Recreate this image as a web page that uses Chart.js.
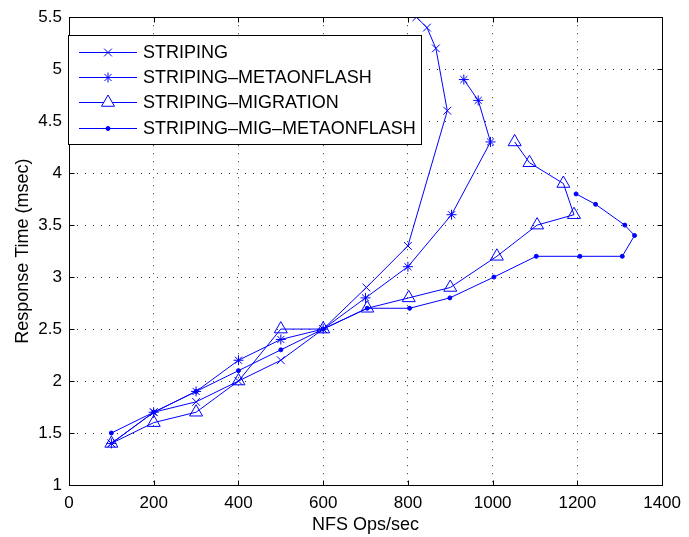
<!DOCTYPE html>
<html>
<head>
<meta charset="utf-8">
<script src="https://cdn.jsdelivr.net/npm/chart.js@4.4.1/dist/chart.umd.min.js"></script>
<style>
  body { margin: 0; background: #fff; }
  #wrap { width: 689px; height: 537px; }
</style>
</head>
<body>
<div id="wrap"><canvas id="chart" width="689" height="537"></canvas></div>
<script>
// tick values
const xTicks = [0, 200, 400, 600, 800, 1000, 1200, 1400];
const yTicks = [1, 1.5, 2, 2.5, 3, 3.5, 4, 4.5, 5, 5.5];

// series (NFS ops/sec vs response time in msec)
const stripingX = [100, 200, 300, 400, 500, 600, 702, 800, 893, 866, 845, 820];
const stripingY = [1.4, 1.7, 1.8, 2.0, 2.2, 2.5, 2.9, 3.3, 4.6, 5.2, 5.4, 5.5];

const metaX = [100, 200, 300, 400, 500, 600, 700, 800, 903, 995, 966, 932];
const metaY = [1.4, 1.7, 1.9, 2.2, 2.4, 2.5, 2.8, 3.1, 3.6, 4.3, 4.7, 4.9];

const migX = [100, 200, 300, 400, 500, 600, 704, 802, 900, 1010, 1105, 1192, 1167, 1087, 1052];
const migY = [1.4, 1.6, 1.7, 2.0, 2.5, 2.5, 2.7, 2.8, 2.9, 3.2, 3.5, 3.6, 3.9, 4.1, 4.3];

const migMetaX = [100, 200, 300, 400, 500, 600, 704, 804, 899, 1003, 1103, 1206, 1306, 1335, 1312, 1243, 1197];
const migMetaY = [1.5, 1.7, 1.9, 2.1, 2.3, 2.5, 2.7, 2.7, 2.8, 3.0, 3.2, 3.2, 3.2, 3.4, 3.5, 3.7, 3.8];

const labels = ['STRIPING', 'STRIPING\u2013METAONFLASH', 'STRIPING\u2013MIGRATION', 'STRIPING\u2013MIG\u2013METAONFLASH'];

const blue = '#0000ff';
const fontFamily = '"Liberation Sans", Arial, Helvetica, sans-serif';

const toPoints = (xs, ys) => xs.map((x, i) => ({ x: x, y: ys[i] }));

function series(label, xs, ys, style, radius, fill) {
  return {
    label: label,
    data: toPoints(xs, ys),
    showLine: true,
    borderColor: blue,
    borderWidth: 1,
    tension: 0,
    pointStyle: style,
    pointRadius: radius,
    pointHoverRadius: radius,
    pointBorderColor: blue,
    pointBorderWidth: 1,
    pointBackgroundColor: fill
  };
}

// box around the plot with inward tick marks, like matlab
const framePlugin = {
  id: 'frame',
  afterDatasetsDraw(chart) {
    const { ctx, chartArea: a, scales } = chart;
    const L = Math.round(a.left) + 0.5, R = Math.round(a.right) + 0.5;
    const T = Math.round(a.top) + 0.5, B = Math.round(a.bottom) + 0.5;
    ctx.save();
    ctx.strokeStyle = '#000';
    ctx.lineWidth = 1;
    ctx.beginPath();
    xTicks.forEach(v => {
      const px = Math.round(scales.x.getPixelForValue(v)) + 0.5;
      ctx.moveTo(px, B); ctx.lineTo(px, B - 5);
      ctx.moveTo(px, T); ctx.lineTo(px, T + 5);
    });
    yTicks.forEach(v => {
      const py = Math.round(scales.y.getPixelForValue(v)) + 0.5;
      ctx.moveTo(L, py); ctx.lineTo(L + 5, py);
      ctx.moveTo(R, py); ctx.lineTo(R - 5, py);
    });
    ctx.stroke();
    ctx.strokeRect(L, T, R - L, B - T);
    ctx.restore();
  }
};

// legend box in the upper left corner
const legendPlugin = {
  id: 'boxLegend',
  afterDraw(chart) {
    const ctx = chart.ctx;
    const bx = 68.5, by = 35.5, bw = 353, bh = 109;
    ctx.save();
    ctx.fillStyle = '#fff';
    ctx.fillRect(bx, by, bw, bh);
    ctx.strokeStyle = '#000';
    ctx.lineWidth = 1;
    ctx.strokeRect(bx, by, bw, bh);
    ctx.font = '18px ' + fontFamily;
    ctx.textBaseline = 'middle';
    chart.data.datasets.forEach((ds, i) => {
      const y = Math.round(51.5 + i * 25.4) + 0.5;
      ctx.strokeStyle = blue;
      ctx.beginPath();
      ctx.moveTo(79, y);
      ctx.lineTo(137, y);
      ctx.stroke();
      ctx.fillStyle = ds.pointBackgroundColor === 'rgba(0,0,0,0)' ? '#fff' : ds.pointBackgroundColor;
      Chart.helpers.drawPoint(ctx, {
        pointStyle: ds.pointStyle,
        radius: ds.pointRadius,
        borderWidth: 1,
        rotation: 0
      }, 108, y);
      ctx.fillStyle = '#000';
      ctx.fillText(ds.label, 143, y + 1);
    });
    ctx.restore();
  }
};

new Chart(document.getElementById('chart'), {
  type: 'scatter',
  data: {
    datasets: [
      series(labels[0], stripingX, stripingY, 'crossRot', 5.5, blue),
      series(labels[1], metaX, metaY, 'star', 5, blue),
      series(labels[2], migX, migY, 'triangle', 7.5, 'rgba(0,0,0,0)'),
      series(labels[3], migMetaX, migMetaY, 'circle', 2, blue)
    ]
  },
  options: {
    responsive: false,
    animation: false,
    layout: { padding: { left: 0, top: 15, right: 23, bottom: 0 } },
    plugins: {
      legend: { display: false },
      tooltip: { enabled: false }
    },
    scales: {
      x: {
        type: 'linear',
        min: 0,
        max: 1400,
        afterBuildTicks: s => { s.ticks = xTicks.map(v => ({ value: v })); },
        afterFit: s => { s.height = 52; },
        grid: { color: '#333', lineWidth: 1, drawTicks: false },
        border: { display: false, dash: [1, 7] },
        ticks: { color: '#000', padding: 8, maxRotation: 0, callback: v => String(v), font: { family: fontFamily, size: 17 } },
        title: { display: true, text: 'NFS Ops/sec', color: '#000', padding: { top: 0, bottom: 1 }, font: { family: fontFamily, size: 18 } }
      },
      y: {
        type: 'linear',
        min: 1,
        max: 5.5,
        afterBuildTicks: s => { s.ticks = yTicks.map(v => ({ value: v })); },
        afterFit: s => { s.width = 69; },
        grid: { color: '#333', lineWidth: 1, drawTicks: false },
        border: { display: false, dash: [1, 7] },
        ticks: { color: '#000', padding: 7, callback: v => String(v), font: { family: fontFamily, size: 17 } },
        title: { display: true, text: 'Response Time (msec)', color: '#000', padding: { top: 12, bottom: 0 }, font: { family: fontFamily, size: 18 } }
      }
    }
  },
  plugins: [framePlugin, legendPlugin]
});
</script>
</body>
</html>
